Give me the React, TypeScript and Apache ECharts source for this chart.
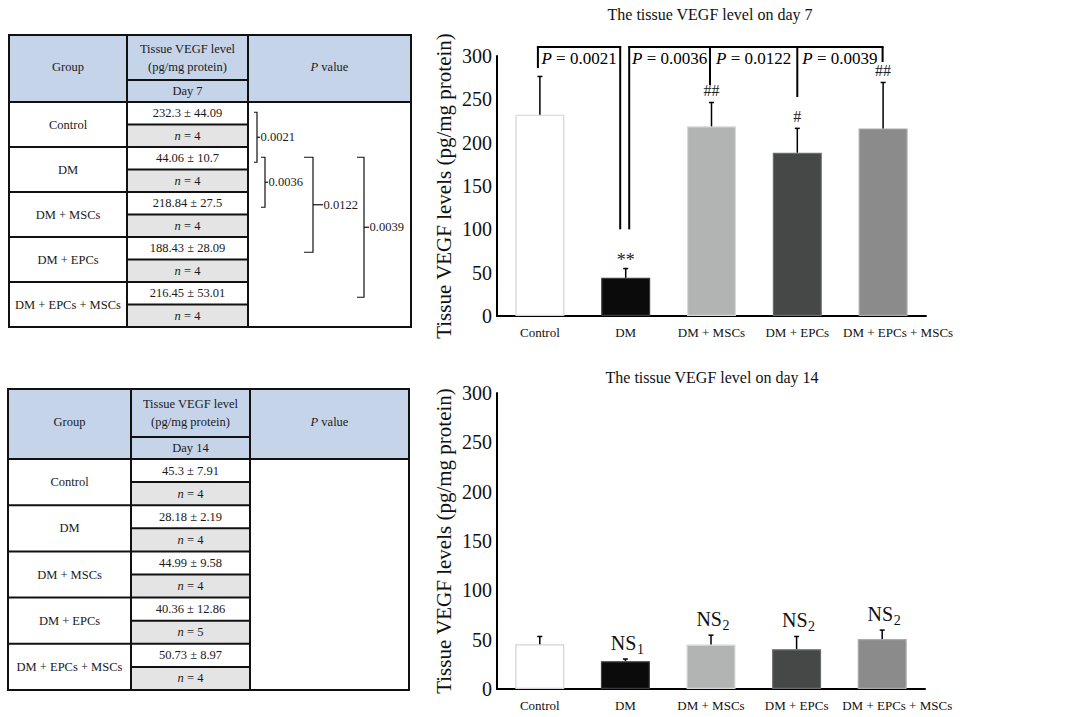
import React, { useEffect, useRef } from 'react';
import * as echarts from 'echarts';

const SERIF = '"Liberation Serif", "Times New Roman", serif';

// ---- data ----
const groups = ['Control', 'DM', 'DM + MSCs', 'DM + EPCs', 'DM + EPCs + MSCs'];
const day7Mean = [232.3, 44.06, 218.84, 188.43, 216.45];
const day7Sd = [44.09, 10.7, 27.5, 28.09, 53.01];
const day7N = [4, 4, 4, 4, 4];
const day14Mean = [45.3, 28.18, 44.99, 40.36, 50.73];
const day14Sd = [7.91, 2.19, 9.58, 12.86, 8.97];
const day14N = [4, 4, 4, 5, 4];
const yMax = 300;
const yStep = 50;
const day7Marks = ['', '**', '##', '#', '##'];
const day14Subs = ['', '1', '2', '2', '2'];
// table comparisons: [groupA, groupB, p]
const tableComparisons: [number, number, string][] = [
  [0, 1, '0.0021'],
  [1, 2, '0.0036'],
  [1, 3, '0.0122'],
  [1, 4, '0.0039'],
];
// chart significance brackets (leg categories, leg end values, p labels)
const bracketLegCats = [[0, 1], [1, 2, 3, 4]];
const bracketLegEnds = [[286, 100], [100, 266.5, 252.7, 293]];
const bracketLabels = [['0.0021'], ['0.0036', '0.0122', '0.0039']];
const bracketTopValue = 310.5;

// ---- styles ----
const barColors = ['#ffffff', '#0b0b0b', '#b2b4b3', '#464847', '#8b8b8b'];
const barBorders = ['#d4d4d4', '#3c3c3c', '#d6d8d7', '#6a6c6b', '#a9a9a9'];
const bracketLegOffsets = [[-2, -5.5], [3.5, -1.5, 0, -0.5]];
const tableBracketX = [257, 265, 313, 364];
const tableBracketLeft = [3, 4, 9, 7];
const tableBracketRight = [3, 3, 10, 5];

type TableGeom = { x: number[]; top: number; hSub: number; hBot: number; sub: number };
const table1Geom: TableGeom = { x: [9, 127, 248, 411], top: 35, hSub: 80, hBot: 102, sub: 22.5 };
const table2Geom: TableGeom = { x: [8, 131, 250, 409], top: 389, hSub: 437, hBot: 459, sub: 23.1 };

function txt(x: number, y: number, text: string, size = 12.5, extra: any = {}) {
  return {
    type: 'text',
    x,
    y,
    silent: true,
    style: {
      text,
      fontSize: size,
      fontFamily: SERIF,
      fill: '#1a1a1a',
      textAlign: 'center',
      textVerticalAlign: 'middle',
      align: 'center',
      verticalAlign: 'middle',
      ...extra,
    },
  };
}

function richItalic(x: number, y: number, italicPart: string, rest: string, size = 12.5) {
  return {
    type: 'text',
    x,
    y,
    silent: true,
    style: {
      text: `{i|${italicPart}}{r|${rest}}`,
      textAlign: 'center',
      textVerticalAlign: 'middle',
      align: 'center',
      verticalAlign: 'middle',
      fill: '#1a1a1a',
      fontSize: size,
      fontFamily: SERIF,
      rich: {
        i: { fontStyle: 'italic', fontSize: size, fontFamily: SERIF, fill: '#1a1a1a' },
        r: { fontSize: size, fontFamily: SERIF, fill: '#1a1a1a' },
      },
    },
  };
}

function line(x1: number, y1: number, x2: number, y2: number, w = 2) {
  return {
    type: 'line',
    silent: true,
    shape: { x1, y1, x2, y2 },
    style: { stroke: '#111', lineWidth: w },
  };
}

function buildTable(g: TableGeom, dayLabel: string, means: number[], sds: number[], ns: number[], withBrackets: boolean) {
  const [x0, x1, x2, x3] = g.x;
  const bottom = g.hBot + groups.length * 2 * g.sub;
  const els: any[] = [];
  els.push({ type: 'rect', silent: true, shape: { x: x0, y: g.top, width: x3 - x0, height: g.hBot - g.top }, style: { fill: '#c6d4ea' } });
  els.push({ type: 'rect', silent: true, shape: { x: x0, y: g.hBot, width: x3 - x0, height: bottom - g.hBot }, style: { fill: '#ffffff' } });
  groups.forEach((_, i) => {
    const gt = g.hBot + i * 2 * g.sub;
    els.push({ type: 'rect', silent: true, shape: { x: x1, y: gt + g.sub, width: x2 - x1, height: g.sub }, style: { fill: '#e4e4e4' } });
  });
  const c1 = (x0 + x1) / 2;
  const c2 = (x1 + x2) / 2;
  const c3 = (x2 + x3) / 2;
  els.push(txt(c1, (g.top + g.hBot) / 2 - 2, 'Group'));
  const hm = (g.top + g.hSub) / 2;
  els.push(txt(c2, hm - 9, 'Tissue VEGF level'));
  els.push(txt(c2, hm + 9, '(pg/mg protein)'));
  els.push(txt(c2, (g.hSub + g.hBot) / 2, dayLabel));
  els.push(richItalic(c3, (g.top + g.hBot) / 2 - 2, 'P', ' value'));
  groups.forEach((name, i) => {
    const gt = g.hBot + i * 2 * g.sub;
    els.push(txt(c1, gt + g.sub, name));
    els.push(txt(c2, gt + g.sub / 2, `${means[i]} ± ${sds[i]}`));
    els.push(richItalic(c2, gt + g.sub * 1.5, 'n', ` = ${ns[i]}`));
  });
  els.push(line(x1, g.top, x1, bottom));
  els.push(line(x2, g.top, x2, bottom));
  els.push(line(x1, g.hSub, x2, g.hSub));
  els.push(line(x0, g.hBot, x3, g.hBot));
  groups.forEach((_, i) => {
    const gt = g.hBot + i * 2 * g.sub;
    if (i > 0) els.push(line(x0, gt, x2, gt));
    els.push(line(x1, gt + g.sub, x2, gt + g.sub));
  });
  els.push({ type: 'rect', silent: true, shape: { x: x0, y: g.top, width: x3 - x0, height: bottom - g.top }, style: { fill: 'none', stroke: '#111', lineWidth: 2 } });

  if (withBrackets) {
    tableComparisons.forEach(([a, b, p], k) => {
      const ya = g.hBot + a * 2 * g.sub + g.sub / 2 - 1;
      const yb = g.hBot + b * 2 * g.sub + g.sub / 2 + 4;
      const vx = tableBracketX[k];
      const lt = tableBracketLeft[k];
      const rt = tableBracketRight[k];
      const ym = (ya + yb) / 2;
      els.push({
        type: 'polyline',
        silent: true,
        shape: { points: [[vx - lt, ya], [vx, ya], [vx, yb], [vx - lt, yb]] },
        style: { stroke: '#111', lineWidth: 1.2, fill: 'none' },
      });
      els.push(line(vx, ym, vx + rt, ym, 1.2));
      els.push(txt(vx + rt + 0.5, ym, p, 12.5, { textAlign: 'left', align: 'left' }));
    });
  }
  return els;
}

function errRender(params: any, api: any) {
  const x = api.value(0);
  const m = api.value(1);
  const s = api.value(2);
  const p0 = api.coord([x, m]);
  const p1 = api.coord([x, m + s]);
  const st = { stroke: '#000', lineWidth: 1.5 };
  return {
    type: 'group',
    children: [
      { type: 'line', shape: { x1: p0[0], y1: p0[1], x2: p1[0], y2: p1[1] }, style: st },
      { type: 'line', shape: { x1: p1[0] - 2.5, y1: p1[1], x2: p1[0] + 2.5, y2: p1[1] }, style: st },
    ],
  };
}

function markRender(params: any, api: any) {
  const i = params.dataIndex;
  const t = day7Marks[i];
  if (!t) return null;
  const p = api.coord([api.value(0), api.value(1)]);
  const isStar = t.indexOf('*') >= 0;
  return {
    type: 'text',
    x: p[0],
    y: p[1] - (isStar ? 9 : 12),
    style: {
      text: t,
      fontSize: isStar ? 18 : 16,
      fontFamily: SERIF,
      fill: '#222',
      textAlign: 'center',
      textVerticalAlign: 'middle',
      align: 'center',
      verticalAlign: 'middle',
    },
  };
}

function nsRender(params: any, api: any) {
  const i = params.dataIndex;
  const sub = day14Subs[i];
  if (!sub) return null;
  const p = api.coord([api.value(0), api.value(1)]);
  const cy = p[1] - 16;
  return {
    type: 'group',
    children: [
      {
        type: 'text',
        x: p[0] + 11,
        y: cy,
        style: { text: 'NS', fontSize: 20, fontFamily: SERIF, fill: '#111', textAlign: 'right', textVerticalAlign: 'middle', align: 'right', verticalAlign: 'middle' },
      },
      {
        type: 'text',
        x: p[0] + 11.5,
        y: cy + 6,
        style: { text: sub, fontSize: 14, fontFamily: SERIF, fill: '#111', textAlign: 'left', textVerticalAlign: 'middle', align: 'left', verticalAlign: 'middle' },
      },
    ],
  };
}

function bracketRender(params: any, api: any) {
  const k = params.dataIndex;
  const cats = bracketLegCats[k];
  const ends = bracketLegEnds[k];
  const offs = bracketLegOffsets[k];
  const labels = bracketLabels[k];
  const topY = api.coord([0, bracketTopValue])[1];
  const xs = cats.map((c, j) => api.coord([c, 0])[0] + offs[j]);
  const ys = cats.map((c, j) => api.coord([c, ends[j]])[1]);
  const st = { stroke: '#000', lineWidth: 2 };
  const children: any[] = [
    { type: 'line', shape: { x1: xs[0] - 1, y1: topY, x2: xs[xs.length - 1] + 1, y2: topY }, style: st },
  ];
  xs.forEach((x, j) => {
    children.push({ type: 'line', shape: { x1: x, y1: topY, x2: x, y2: ys[j] }, style: st });
  });
  labels.forEach((lab, j) => {
    children.push({
      type: 'text',
      x: (xs[j] + xs[j + 1]) / 2,
      y: topY + 12,
      style: {
        text: `{i|P}{r| = ${lab}}`,
        textAlign: 'center',
        textVerticalAlign: 'middle',
        align: 'center',
        verticalAlign: 'middle',
        fill: '#000',
        fontSize: 17,
        fontFamily: SERIF,
        rich: {
          i: { fontStyle: 'italic', fontSize: 17, fontFamily: SERIF, fill: '#000' },
          r: { fontSize: 17, fontFamily: SERIF, fill: '#000' },
        },
      },
    });
  });
  return { type: 'group', children };
}

function barSeries(idx: number, means: number[]) {
  return {
    type: 'bar',
    xAxisIndex: idx,
    yAxisIndex: idx,
    barWidth: 49,
    silent: true,
    z: 2,
    data: means.map((v, i) => ({
      value: v,
      itemStyle: { color: barColors[i], borderColor: barBorders[i], borderWidth: 1.2 },
    })),
  };
}

export default function App() {
  const ref = useRef<HTMLDivElement>(null);
  useEffect(() => {
    if (!ref.current) return;
    const chart = echarts.init(ref.current, null, { renderer: 'svg' });
    const lastIdx = groups.length - 1;
    const option: any = {
      animation: false,
      textStyle: { fontFamily: SERIF },
      grid: [
        { left: 497, top: 56, width: 429, height: 260 },
        { left: 497, top: 393, width: 428, height: 296 },
      ],
      xAxis: [0, 1].map((i) => ({
        type: 'category',
        gridIndex: i,
        data: groups,
        axisLine: { lineStyle: { color: '#000', width: 2 } },
        axisTick: { show: false },
        axisLabel: {
          fontSize: 13,
          color: '#111',
          fontFamily: SERIF,
          margin: 10,
          interval: 0,
          formatter: (v: string, idx: number) => (idx === lastIdx ? `{s|${v}}` : v),
          rich: { s: { fontSize: 13, fontFamily: SERIF, color: '#111', padding: [0, 0, 0, 30] } },
        },
      })),
      yAxis: [0, 1].map((i) => ({
        type: 'value',
        gridIndex: i,
        min: 0,
        max: yMax,
        interval: yStep,
        name: 'Tissue VEGF levels (pg/mg protein)',
        nameLocation: 'middle',
        nameGap: 43,
        nameMoveOverlap: false,
        nameTextStyle: { fontSize: 21, color: '#111', fontFamily: SERIF },
        axisLine: { show: true, lineStyle: { color: '#000', width: 2 } },
        axisTick: { show: false },
        splitLine: { show: false },
        axisLabel: { fontSize: 20, color: '#111', fontFamily: SERIF, margin: 5 },
      })),
      series: [
        barSeries(0, day7Mean),
        barSeries(1, day14Mean),
        {
          type: 'custom', xAxisIndex: 0, yAxisIndex: 0, z: 3, silent: true,
          data: day7Mean.map((m, i) => [i, m, day7Sd[i]]),
          encode: { x: 0, y: 1 },
          renderItem: errRender,
        },
        {
          type: 'custom', xAxisIndex: 1, yAxisIndex: 1, z: 3, silent: true,
          data: day14Mean.map((m, i) => [i, m, day14Sd[i]]),
          encode: { x: 0, y: 1 },
          renderItem: errRender,
        },
        {
          type: 'custom', xAxisIndex: 0, yAxisIndex: 0, z: 4, silent: true,
          data: day7Mean.map((m, i) => [i, m + day7Sd[i]]),
          encode: { x: 0, y: 1 },
          renderItem: markRender,
        },
        {
          type: 'custom', xAxisIndex: 1, yAxisIndex: 1, z: 4, silent: true,
          data: day14Mean.map((m, i) => [i, m + day14Sd[i]]),
          encode: { x: 0, y: 1 },
          renderItem: nsRender,
        },
        {
          type: 'custom', xAxisIndex: 0, yAxisIndex: 0, z: 5, silent: true, clip: false,
          data: bracketLegCats.map((c) => [c[0], bracketTopValue]),
          encode: { x: 0, y: 1 },
          renderItem: bracketRender,
        },
      ],
      graphic: {
        elements: [
          ...buildTable(table1Geom, 'Day 7', day7Mean, day7Sd, day7N, true),
          ...buildTable(table2Geom, 'Day 14', day14Mean, day14Sd, day14N, false),
          txt(710, 14, 'The tissue VEGF level on day 7', 16, { fill: '#111' }),
          txt(712, 377, 'The tissue VEGF level on day 14', 16, { fill: '#111' }),
        ],
      },
    };
    chart.setOption(option);
    return () => chart.dispose();
  }, []);
  return (
    <div
      ref={ref}
      style={{ position: 'absolute', left: 0, top: 0, width: 1071, height: 717, background: '#fff' }}
    />
  );
}
